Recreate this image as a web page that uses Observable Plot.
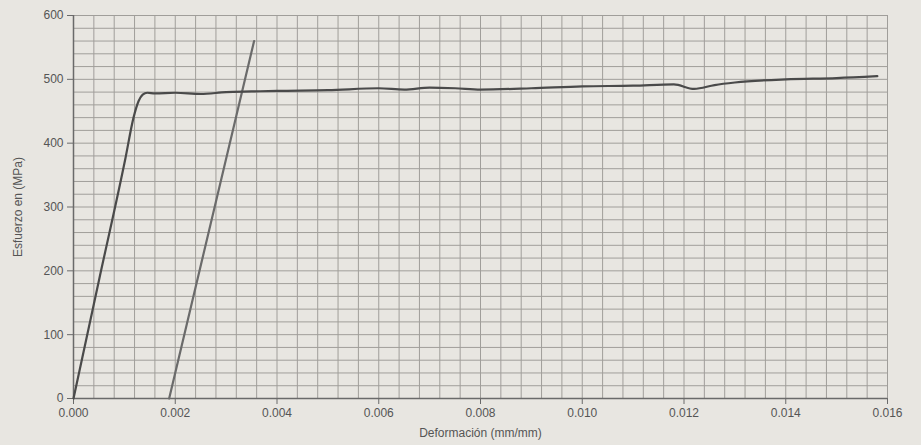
<!DOCTYPE html>
<html>
<head>
<meta charset="utf-8">
<script src="https://cdn.jsdelivr.net/npm/d3@7"></script>
<script src="https://cdn.jsdelivr.net/npm/@observablehq/plot@0.6"></script>
<style>
  html, body { margin: 0; padding: 0; background: #e8e6e1; }
  #chart svg { display: block; }
  #chart svg [aria-label$="label"] text { fill: #555; }
</style>
</head>
<body>
<div id="chart"></div>
<script>
// Stress–strain test curve
const strain = [0, 0.00050, 0.00102, 0.00118, 0.00128, 0.00136, 0.00145, 0.00160, 0.0020, 0.0025, 0.0030, 0.0035, 0.0040, 0.0050, 0.0060, 0.0065, 0.0070, 0.0075, 0.0080, 0.0090, 0.0100, 0.0110, 0.0118, 0.0122, 0.0126, 0.0130, 0.0140, 0.0150, 0.0158];
const stress = [0, 185, 376, 440, 466, 476, 479, 478, 479, 477, 480, 481, 482, 483, 486, 484, 487, 486, 484, 486, 489, 490, 492, 485, 491, 495, 500, 502, 505];

// 0.2% offset line
const offsetStrain = [0.00188, 0.00355];
const offsetStress = [0, 560];

const xTicks = [0, 0.002, 0.004, 0.006, 0.008, 0.010, 0.012, 0.014, 0.016];
const yTicks = [0, 100, 200, 300, 400, 500, 600];
const xMinor = [0,0.0004,0.0008,0.0012,0.0016,0.002,0.0024,0.0028,0.0032,0.0036,0.004,0.0044,0.0048,0.0052,0.0056,0.006,0.0064,0.0068,0.0072,0.0076,0.008,0.0084,0.0088,0.0092,0.0096,0.010,0.0104,0.0108,0.0112,0.0116,0.012,0.0124,0.0128,0.0132,0.0136,0.014,0.0144,0.0148,0.0152,0.0156,0.016];
const yMinor = [0,20,40,60,80,100,120,140,160,180,200,220,240,260,280,300,320,340,360,380,400,420,440,460,480,500,520,540,560,580,600];

const curve = strain.map((x, i) => ({x, y: stress[i]}));
const offset = offsetStrain.map((x, i) => ({x, y: offsetStress[i]}));

const chart = Plot.plot({
  width: 921,
  height: 445,
  marginLeft: 73,
  marginRight: 34,
  marginTop: 15,
  marginBottom: 47,
  style: {background: "#e8e6e1", fontFamily: "'Liberation Sans', Arial, sans-serif", fontSize: "12px", color: "#666"},
  x: {domain: [0, 0.016]},
  y: {domain: [0, 600]},
  marks: [
    Plot.gridX(xMinor, {stroke: "#a09e9a", strokeOpacity: 1, strokeWidth: 1}),
    Plot.gridY(yMinor, {stroke: "#a09e9a", strokeOpacity: 1, strokeWidth: 1}),
    Plot.ruleX([0], {stroke: "#6a6a6a", strokeWidth: 1.5}),
    Plot.ruleY([0], {stroke: "#6a6a6a", strokeWidth: 1.5}),
    Plot.axisX(xTicks, {tickFormat: d3.format(".3f"), tickSize: 6, tickPadding: 4, stroke: "#6a6a6a", fill: "#7a7a7a", fontSize: 12,
      label: "Deformación (mm/mm)", labelAnchor: "center", labelArrow: "none", labelOffset: 38}),
    Plot.axisY(yTicks, {tickSize: 6, tickPadding: 4, stroke: "#6a6a6a", fill: "#7a7a7a", fontSize: 12,
      label: "Esfuerzo en (MPa)", labelAnchor: "center", labelArrow: "none", labelOffset: 60}),
    Plot.line(offset, {x: "x", y: "y", stroke: "#6b6b6b", strokeWidth: 2.2}),
    Plot.line(curve, {x: "x", y: "y", stroke: "#4a4a4a", strokeWidth: 2.2, curve: "monotone-x"})
  ]
});
document.getElementById("chart").appendChild(chart);
</script>
</body>
</html>
